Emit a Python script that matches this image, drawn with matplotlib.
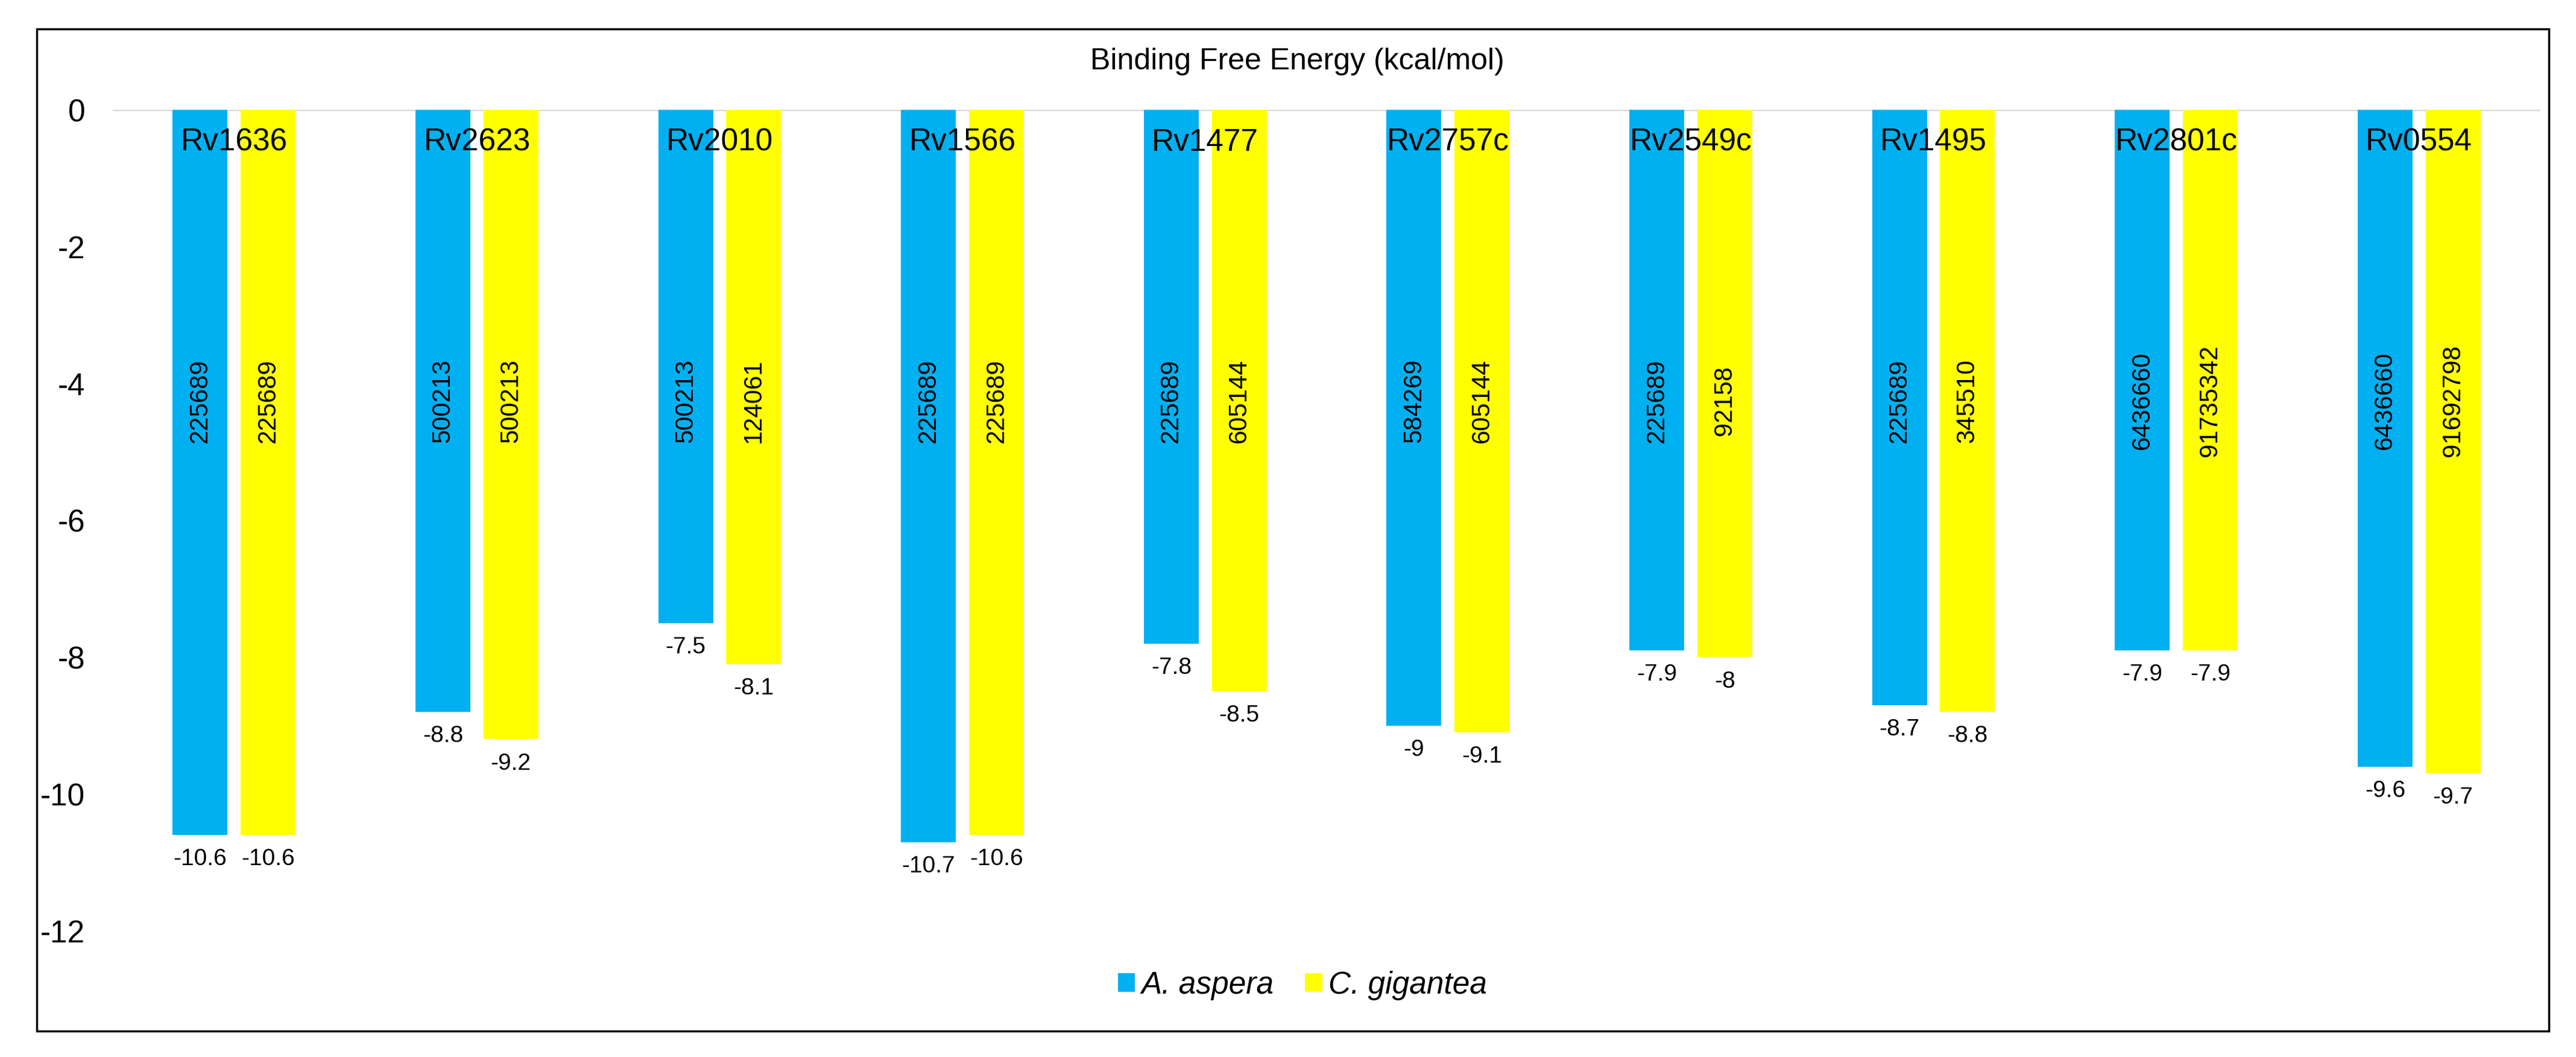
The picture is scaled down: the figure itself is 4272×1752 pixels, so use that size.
import matplotlib
matplotlib.use('Agg')
import matplotlib.pyplot as plt
import numpy as np
from matplotlib.patches import Rectangle

plt.rcParams['font.family'] = ['Liberation Sans', 'DejaVu Sans']

# data
targets = ['Rv1636', 'Rv2623', 'Rv2010', 'Rv1566', 'Rv1477',
           'Rv2757c', 'Rv2549c', 'Rv1495', 'Rv2801c', 'Rv0554']
aspera = [-10.6, -8.8, -7.5, -10.7, -7.8, -9, -7.9, -8.7, -7.9, -9.6]
gigantea = [-10.6, -9.2, -8.1, -10.6, -8.5, -9.1, -8, -8.8, -7.9, -9.7]
aspera_cid = ['225689', '500213', '500213', '225689', '225689',
              '584269', '225689', '225689', '6436660', '6436660']
gigantea_cid = ['225689', '500213', '124061', '225689', '605144',
                '605144', '92158', '345510', '91735342', '91692798']
yticks = [0, -2, -4, -6, -8, -10, -12]

W, H, DPI = 4272, 1752, 100
fig = plt.figure(figsize=(W / DPI, H / DPI), dpi=DPI)
# plot area in pixels: x 187..4213, y 182..1543
ax = fig.add_axes([187 / W, 1 - 1543 / H, (4213 - 187) / W, (1543 - 182) / H])

x = np.arange(len(targets))
bw = 0.226
off = 0.14
b1 = ax.bar(x - off, aspera, bw, color='#00B0F0', label='A. aspera', zorder=2)
b2 = ax.bar(x + off, gigantea, bw, color='#FFFF00', label='C. gigantea', zorder=2)

ax.axhline(0, color='#D9D9D9', lw=2.5, zorder=1)
ax.set_xlim(-0.5, len(targets) - 0.5)
ax.set_ylim(-12, 0)
for s in ax.spines.values():
    s.set_visible(False)
ax.set_xticks([])
ax.set_yticks(yticks)
ax.set_yticklabels([str(t) for t in yticks], fontsize=37)
ax.tick_params(axis='y', length=0, pad=33)

# category names sit just under the zero line
for i, name in enumerate(targets):
    ax.text(i, -0.48, name, ha='center', va='center', fontsize=37, zorder=4)

# values under bar ends and compound ids inside the bars
for bars, vals, cids in [(b1, aspera, aspera_cid), (b2, gigantea, gigantea_cid)]:
    for rect, v, c in zip(bars, vals, cids):
        cx = rect.get_x() + rect.get_width() / 2
        ax.annotate('%g' % v, (cx, v), xytext=(0, -29), textcoords='offset points',
                    ha='center', va='center', fontsize=28)
        ax.text(cx, -4.25, c, rotation=90, ha='center', va='center', fontsize=30, zorder=4)

fig.text(2151 / W, 1 - 102 / H, 'Binding Free Energy (kcal/mol)', ha='center', va='center',
         fontsize=36)

fig.legend(handles=[b1, b2], loc='center', bbox_to_anchor=(2160 / W, 1 - 1633 / H),
           ncol=2, frameon=False, prop=dict(style='italic', size=37),
           handlelength=0.55, handleheight=0.55, handletextpad=0.2, columnspacing=1.0)

# outer frame of the chart
fig.patches.append(Rectangle((61 / W, 1 - 1709 / H), (4227 - 61) / W, (1709 - 48) / H,
                             transform=fig.transFigure, fill=False, edgecolor='black', lw=2.5))

plt.savefig('out.png', dpi=DPI)
